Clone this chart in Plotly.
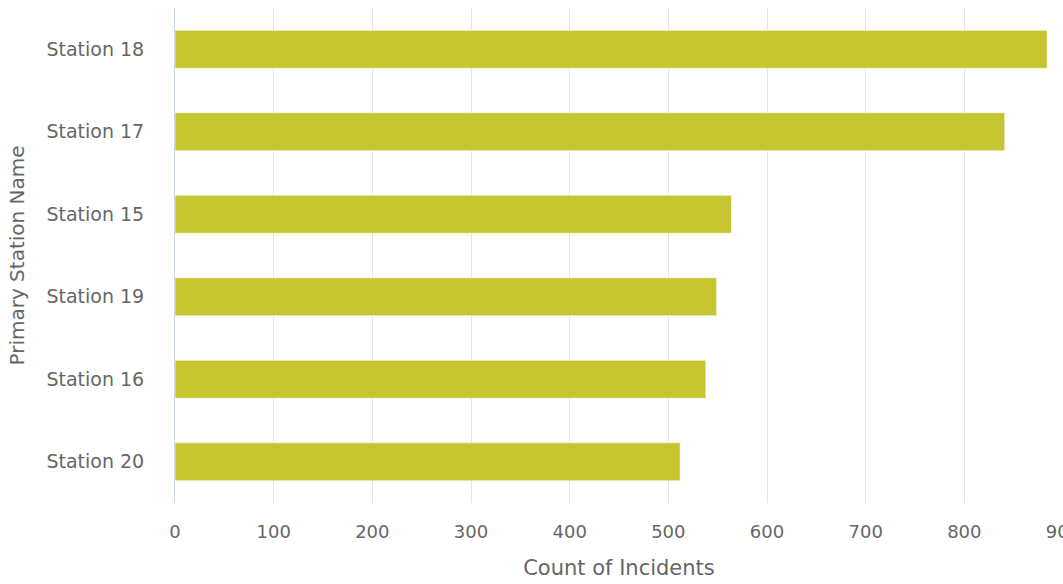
import plotly.graph_objects as go

stations = ["Station 18", "Station 17", "Station 15", "Station 19", "Station 16", "Station 20"]
counts = [884, 841, 564, 549, 538, 512]
x_ticks = [0, 100, 200, 300, 400, 500, 600, 700, 800, 900]

fig = go.Figure(go.Bar(
    x=counts, y=stations, orientation="h",
    marker=dict(color="#c5c52f", line=dict(color="rgba(255,255,255,0.6)", width=1)),
    width=0.46,
))

FONT = "DejaVu Sans"
fig.update_layout(
    width=1063, height=584,
    margin=dict(l=175, r=0, t=8, b=81),
    plot_bgcolor="white", paper_bgcolor="white",
    showlegend=False,
    font=dict(family=FONT, color="#666666"),
)
fig.update_xaxes(
    range=[0, 900], tickvals=x_ticks, showgrid=True, gridcolor="#e6e6e6", gridwidth=1,
    zeroline=False, showline=False, ticks="", tickfont=dict(size=18, color="#666666"),
    ticklabeloverflow="allow", ticklabelstandoff=16, automargin=False,
    title=dict(text="Count of Incidents", font=dict(size=21, color="#666666"), standoff=19),
)
fig.update_yaxes(
    categoryorder="array", categoryarray=stations[::-1], autorange=True,
    showline=True, linecolor="#ccd6eb", linewidth=1, showgrid=False, ticks="",
    ticklabelstandoff=26, automargin=False,
    tickfont=dict(size=19, color="#666666"),
    title=dict(text="Primary Station Name", font=dict(size=20, color="#666666"), standoff=16),
)
fig.write_html("out.html")
